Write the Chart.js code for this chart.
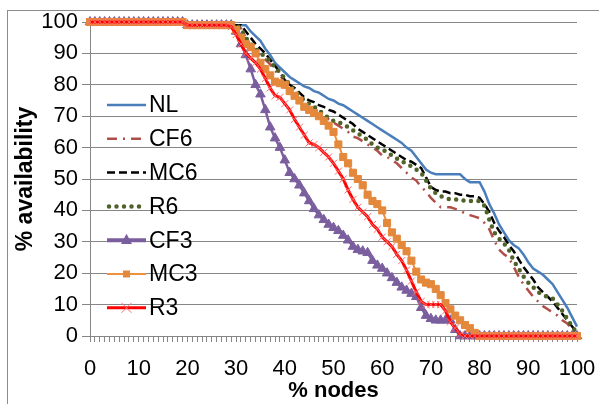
<!DOCTYPE html>
<html>
<head>
<meta charset="utf-8">
<title>% availability vs % nodes</title>
<script src="https://cdn.jsdelivr.net/npm/chart.js"></script>
<style>
  body { margin: 0; overflow: hidden; background: #fff; }
  #wrap { position: relative; width: 599px; height: 404px; }
  .frame { position: absolute; left: 7px; top: 10px; width: 640px; height: 440px; border: 1px solid #8c8c8c; }
  #chart { position: absolute; left: 0; top: 0; }
</style>
</head>
<body>
<div id="wrap">
  <div class="frame"></div>
  <canvas id="chart" width="599" height="404"></canvas>
</div>
<script>
// x positions: % nodes, 0..100 (one point per percent)
var nodes = Array.from({length: 101}, function(_, i) { return i; });
var seriesNames = ['NL', 'CF6', 'MC6', 'R6', 'CF3', 'MC3', 'R3'];

// % availability, 10 values per row (0-9, 10-19, ...)
var NL = [
  100,100,100,100,100,100,100,100,100,100,
  100,100,100,100,100,100,100,100,100,100,
  99,99,99,99,99,99,99,99,99,99,
  99,99,99,97,95.5,94,91.5,89.5,87,85.5,
  84,82.5,81.5,80.5,79.5,79,78,77.5,76.5,75.5,
  75,74,73.5,72.5,71.5,70.5,69.5,68.5,67.5,66.5,
  65.5,64.5,63.5,62.5,61.5,60,59,57,55,53,
  52,51.5,51.5,51.5,51.5,51.5,51.5,50,49,49,
  49,46,42,39,35.5,33,30.5,29,28,26,
  23.5,21.5,20.5,19.5,18,16.5,14,11.5,9,6,
  3];
var CF6 = [
  100,100,100,100,100,100,100,100,100,100,
  100,100,100,100,100,100,100,100,100,100,
  99,99,99,99,99,99,99,99,99,99,
  99,98,95,92.5,91,89.5,88,86.5,84.5,83,
  81,79,77,75.5,74,72.5,71,70,69.5,69,
  68,67,66,65,63.5,63,62,61,60,59,
  57.5,57,56,55,53.5,52,50.5,49.5,47.5,46,
  44,42.5,41,41,41,40.5,40,39,38.5,38,
  37.5,36,34,30.5,27.5,26,25,22,19,16.5,
  14.5,12.5,11,9.5,8.5,7.5,6.5,5,4,2,
  0.5];
var MC6 = [
  100,100,100,100,100,100,100,100,100,100,
  100,100,100,100,100,100,100,100,100,100,
  99,99,99,99,99,99,99,99,99,99,
  99,99,97,95,93,91.5,90,88,86,84,
  81.5,80,79,77.5,76,75,74.5,73.5,73,72,
  71.5,70.5,69.5,68.5,67.5,66,65,64,63,62,
  61,60,59,58,57,56,55.5,54.5,53.5,50.5,
  47.5,46.5,46,46,45.5,45.5,45,45,44.5,44.5,
  44,42,39.5,36,33.5,31.5,29,27,24.5,22,
  20,18,15.5,14,12.5,11,9,7,5,3,
  1];
var R6 = [
  100,100,100,100,100,100,100,100,100,100,
  100,100,100,100,100,100,100,100,100,100,
  99,99,99,99,99,99,99,99,99,99,
  99,98,95,93,91.5,90,89,87.5,85.5,84,
  82,80,78,76.5,75,74,73,72,70.5,69.5,
  68.5,68,67.5,66.5,65.5,64.5,63.5,62.5,61,60,
  59.5,58.5,57.5,56.5,55.5,55,54,53,52,49.5,
  47,45.5,44.5,44,43.5,43.5,43.5,43,43,43,
  43,41.5,37,33,31,29.5,27.5,24,21.5,19,
  17,15.5,14,13,12.5,12,10,8,5.5,3,
  1];
var CF3 = [
  100,100,100,100,100,100,100,100,100,100,
  100,100,100,100,100,100,100,100,100,100,
  99,99,99,99,99,99,99,99,99,99,
  97,93,89.5,85,80,77,72,66.5,63,60,
  56,52,50,48,45.5,43,40.5,38.5,37,35.5,
  34.5,33.5,32,30.5,28.5,27.5,27,26.5,24,22.5,
  21.5,20,18.5,17,15.5,14.5,13.5,12.5,9,6.5,
  5.5,5,5,5,5,2,0,0,0,0,
  0,0,0,0,0,0,0,0,0,0,
  0,0,0,0,0,0,0,0,0,0,
  0];
var MC3 = [
  100,100,100,100,100,100,100,100,100,100,
  100,100,100,100,100,100,100,100,100,100,
  99,99,99,99,99,99,99,99,99,99,
  97.5,95,93,92,90,87,85,83,81,80.5,
  80,78,76.5,75,73,72,71,70,68.5,67,
  65,61,57,55,52,50,48,45,43,42,
  40,36,33,31,29,27,24,20.5,18,17,
  16.5,15,13,10.5,8.5,6.5,5,3.5,2.5,1,
  0,0,0,0,0,0,0,0,0,0,
  0,0,0,0,0,0,0,0,0,0,
  0];
var R3 = [
  100,100,100,100,100,100,100,100,100,100,
  100,100,100,100,100,100,100,100,100,100,
  99,99,99,99,99,99,99,99,99,98.5,
  96,93,90,88.5,87,85,82,79,76.5,76,
  74,72,69,66.5,64,61.5,61,60,58.5,57,
  55,52.5,50,46.5,43.5,41,39.5,38,35.5,34,
  31.5,30,28.5,26,24,21,17.5,14,11,10,
  10,10,10,8,4.5,2.5,0.5,0,0,0,
  0,0,0,0,0,0,0,0,0,0,
  0,0,0,0,0,0,0,0,0,0,
  0];

var FONT = "'Liberation Sans', Arial, sans-serif";

function pts(arr) {
  return arr.map(function(v, i) { return {x: nodes[i], y: v}; });
}

var styles = [
  {borderColor: '#4A7EBB', borderWidth: 2.5},
  {borderColor: '#B24E4A', borderWidth: 2.5, borderDash: [10, 6, 2, 6]},
  {borderColor: '#000000', borderWidth: 2.5, borderDash: [8, 4]},
  {borderColor: '#4F6228', borderWidth: 4.5, borderDash: [0, 7.5], borderCapStyle: 'round'},
  {borderColor: '#7A5E9E', borderWidth: 2.5, pointStyle: 'triangle', pointRadius: 5.5,
   pointBackgroundColor: '#7A5E9E', pointBorderColor: '#7A5E9E', pointBorderWidth: 1},
  {borderColor: '#F0903F', borderWidth: 2, pointStyle: 'rect', pointRadius: 5,
   pointBackgroundColor: '#E4883C', pointBorderColor: '#E4883C', pointBorderWidth: 1},
  {borderColor: '#FF0000', borderWidth: 3, pointStyle: 'crossRot', pointRadius: 5,
   pointBackgroundColor: '#FF6A6A', pointBorderColor: '#FF6A6A', pointBorderWidth: 1}
];
var allData = [NL, CF6, MC6, R6, CF3, MC3, R3];

var datasets = allData.map(function(arr, i) {
  var d = {
    label: seriesNames[i],
    data: pts(arr),
    fill: false,
    tension: 0,
    pointRadius: 0,
    clip: false,
    order: 7 - i
  };
  return Object.assign(d, styles[i]);
});

// legend drawn inside the plot area, like the original
var insideLegend = {
  id: 'insideLegend',
  afterDraw: function(chart) {
    var ctx = chart.ctx;
    var x0 = 107, x1 = 146, top = 105, gap = 33.8;
    chart.data.datasets.forEach(function(ds, i) {
      var y = top + i * gap;
      ctx.save();
      ctx.strokeStyle = ds.borderColor;
      ctx.lineWidth = ds.pointStyle === 'triangle' ? 4 : ds.borderWidth;
      ctx.setLineDash(ds.borderDash || []);
      ctx.lineCap = ds.borderCapStyle || 'butt';
      ctx.beginPath();
      ctx.moveTo(ds.borderCapStyle === 'round' ? x0 + 2 : x0, y);
      ctx.lineTo(x1, y);
      ctx.stroke();
      ctx.setLineDash([]);
      var cx = (x0 + x1) / 2, r = ds.pointRadius;
      ctx.fillStyle = ds.pointBackgroundColor;
      ctx.strokeStyle = ds.pointBorderColor;
      ctx.lineWidth = 1;
      if (ds.pointStyle === 'triangle') {
        ctx.beginPath();
        ctx.moveTo(cx, y - r - 1);
        ctx.lineTo(cx + r, y + r * 0.7);
        ctx.lineTo(cx - r, y + r * 0.7);
        ctx.closePath();
        ctx.fill();
      } else if (ds.pointStyle === 'rect') {
        ctx.fillRect(cx - 3.5, y - 3.5, 7, 7);
      } else if (ds.pointStyle === 'crossRot') {
        ctx.beginPath();
        ctx.moveTo(cx - 5, y - 5); ctx.lineTo(cx + 5, y + 5);
        ctx.moveTo(cx + 5, y - 5); ctx.lineTo(cx - 5, y + 5);
        ctx.stroke();
      }
      ctx.fillStyle = '#000';
      ctx.font = '23px ' + FONT;
      ctx.textBaseline = 'middle';
      ctx.textAlign = 'left';
      ctx.fillText(ds.label, 149, y + 1);
      ctx.restore();
    });
  }
};

var chart = new Chart(document.getElementById('chart').getContext('2d'), {
  type: 'line',
  data: { datasets: datasets },
  plugins: [insideLegend],
  options: {
    responsive: false,
    animation: false,
    layout: { padding: { top: 22, right: 22, left: 0, bottom: 0 } },
    plugins: { legend: { display: false }, tooltip: { enabled: false } },
    scales: {
      x: {
        type: 'linear', min: 0, max: 100,
        afterFit: function(s) { s.height = 68; s.paddingLeft = 0; s.paddingRight = 0; },
        ticks: {
          stepSize: 1, autoSkip: false, maxTicksLimit: 200, maxRotation: 0,
          padding: 14, color: '#000', font: { family: FONT, size: 22 },
          callback: function(v) { return v % 10 === 0 ? v : ''; }
        },
        grid: { drawOnChartArea: false, color: '#868686', tickLength: 6 },
        border: { color: '#868686' },
        title: { display: true, text: '% nodes', color: '#000', padding: 0,
                 font: { family: FONT, size: 22, weight: 'bold' } }
      },
      y: {
        min: 0, max: 100,
        afterFit: function(s) { s.width = 90; },
        ticks: { stepSize: 10, padding: 4, color: '#000', font: { family: FONT, size: 22 } },
        grid: { color: '#868686', tickLength: 8 },
        border: { color: '#868686' },
        title: { display: true, text: '% availability', color: '#000', padding: { top: 12, bottom: 0 },
                 font: { family: FONT, size: 23, weight: 'bold' } }
      }
    }
  }
});
</script>
</body>
</html>
